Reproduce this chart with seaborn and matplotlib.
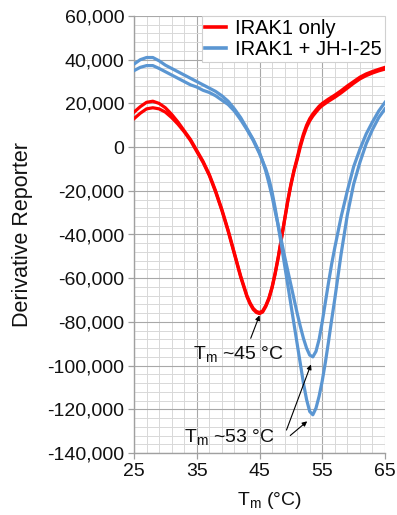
import numpy as np
import pandas as pd
import matplotlib
matplotlib.use("Agg")
import matplotlib.pyplot as plt
from matplotlib.ticker import MultipleLocator, FixedLocator, FuncFormatter
import seaborn as sns

# ---------------- data (values in thousands of reporter units) ----------------
temps = [25, 26, 27, 28, 29, 30, 31, 32, 33, 34, 35, 36, 37, 38, 39, 40, 41, 42, 43,
         43.5, 44, 44.5, 45, 45.5, 46, 46.5, 47, 47.5, 48, 48.5, 49, 49.5, 50, 50.5,
         51, 51.5, 52, 52.5, 53, 53.5, 54, 54.5, 55, 55.5, 56, 56.5, 57,
         58, 59, 60, 61, 62, 63, 64, 65]

irak1_rep1 = [16, 18.5, 20.5, 21, 20, 18, 15, 11.5, 7.5, 3.5, -1.5, -6.5, -12.5, -20, -28.5, -38, -48.5, -59, -68,
              -71.3, -73.8, -75.2, -75.7, -75, -72.5, -69, -64, -57.5, -50, -41.5, -33, -24.5, -17, -10.5,
              -5, 1, 6, 10, 13, 15.2, 17, 18.7, 20, 21, 22, 22.9, 23.8,
              25.8, 28, 30, 32, 33.5, 34.6, 35.6, 36.5]

irak1_rep2 = [13, 15.5, 17.5, 18, 17.5, 16, 13.5, 10.5, 7, 3, -2, -7, -13, -20.5, -29, -38.5, -49, -59.5, -68.5,
              -71.8, -74.3, -75.7, -76.2, -75.5, -73, -69.5, -64.5, -58, -50.5, -42, -33.5, -25, -17.5, -11,
              -5.8, 0, 5, 9, 12, 14.2, 16, 17.7, 19, 20, 21, 21.9, 22.8,
              24.8, 27, 29.2, 31.2, 32.7, 33.9, 34.9, 35.7]

jh_rep1 = [38, 40, 41, 41, 39.5, 37.5, 36, 34.5, 33, 31.5, 30, 28.5, 27, 25.5, 23.5, 21, 17.5, 13.5, 8.5,
           6, 3.5, 0.5, -2.5, -6.5, -11, -16.5, -22.5, -29.5, -36, -43, -50, -56.5, -63, -69.5,
           -76, -82, -87.5, -92, -95.2, -96, -93.5, -88, -80, -71, -62, -53.5, -46,
           -32, -20, -9, -1, 6, 11.5, 16.5, 20.5]

jh_rep2 = [35, 36.5, 37.3, 37.3, 36, 34.5, 33, 31.5, 30, 28.5, 27.5, 26, 25, 23.5, 21.5, 19.5, 16.5, 12.5, 8,
           5.5, 3, 0, -3, -6.5, -10, -14.5, -20.5, -28, -36.5, -45, -54, -63, -72, -81,
           -90, -99, -108, -115.5, -121, -122.5, -119.5, -114, -107, -98.5, -89, -79, -69.5,
           -49, -31, -17, -7, 1.5, 8, 13.5, 17.5]

series_names = ["IRAK1 only", "IRAK1 + JH-I-25"]
series_colors = ["#FF0000", "#5B96D2"]
x_ticks = [25, 35, 45, 55, 65]

rows = []
for name, reps in [(series_names[0], [irak1_rep1, irak1_rep2]),
                   (series_names[1], [jh_rep1, jh_rep2])]:
    for r, vals in enumerate(reps):
        for t, v in zip(temps, vals):
            rows.append({"T": t, "value": v * 1000, "series": name, "rep": r})
df = pd.DataFrame(rows)

# ---------------- figure ----------------
plt.rcParams["font.family"] = ["Liberation Sans", "DejaVu Sans"]
fig = plt.figure(figsize=(3.97, 5.15), dpi=100)
ax = fig.add_axes([134 / 397, 1 - 453 / 515, (385 - 134) / 397, (453 - 16) / 515])

sns.lineplot(data=df, x="T", y="value", hue="series", units="rep", estimator=None,
             palette=dict(zip(series_names, series_colors)), hue_order=series_names,
             linewidth=2.3, ax=ax, sort=False, zorder=3)

ax.set_xlim(25, 65)
ax.set_ylim(-140000, 60000)
ax.xaxis.set_major_locator(FixedLocator(x_ticks))
ax.xaxis.set_minor_locator(FixedLocator(np.arange(25, 66, 2)))
ax.yaxis.set_major_locator(MultipleLocator(20000))
ax.yaxis.set_minor_locator(MultipleLocator(4000))
ax.yaxis.set_major_formatter(FuncFormatter(lambda v, p: f"{int(round(v)):,}"))

ax.grid(which="major", color="#a8a8a8", linewidth=0.8, zorder=0)
ax.grid(which="minor", color="#d8d8d8", linewidth=0.7, zorder=0)
ax.set_axisbelow(True)

for s in ["top", "right"]:
    ax.spines[s].set_visible(False)
for s in ["left", "bottom"]:
    ax.spines[s].set_color("#a0a0a0")
    ax.spines[s].set_linewidth(1.0)

ax.tick_params(which="major", direction="out", length=4, width=0.9, color="#a0a0a0",
               labelsize=14, labelcolor="#111111", pad=3)
ax.tick_params(which="minor", length=0)

ax.set_xlabel("T$_\\mathregular{m}$ (°C)", fontsize=14, color="#111111")
ax.xaxis.set_label_coords((270 - 134) / 251, -0.085)
ax.set_ylabel("Derivative Reporter", fontsize=15.5, labelpad=10, color="#111111")

leg = ax.legend(loc="upper right", bbox_to_anchor=(1.0, 1.0), borderaxespad=0,
                fontsize=14.5, frameon=True, fancybox=False, handlelength=1.05,
                handletextpad=0.45, borderpad=0.15, labelspacing=0.12)
leg.get_frame().set_edgecolor("#d0d0d0")
leg.get_frame().set_linewidth(0.8)
leg.get_frame().set_alpha(1)
for h in leg.get_lines():
    h.set_linewidth(2.6)

arrow = dict(arrowstyle="-|>", color="black", lw=0.8, mutation_scale=7, shrinkA=0, shrinkB=0)
ax.text(41.6, -95000, "T$_\\mathregular{m}$ ~45 °C", fontsize=14, ha="center", va="center", color="#111111")
ax.annotate("", xy=(45.0, -77000), xytext=(43.6, -87500), arrowprops=arrow)

ax.text(40.3, -133000, "T$_\\mathregular{m}$ ~53 °C", fontsize=14, ha="center", va="center", color="#111111")
ax.annotate("", xy=(53.2, -99500), xytext=(49.3, -129500), arrowprops=arrow)
ax.annotate("", xy=(52.6, -125500), xytext=(49.9, -132000), arrowprops=arrow)

fig.savefig("out.png", dpi=100)
